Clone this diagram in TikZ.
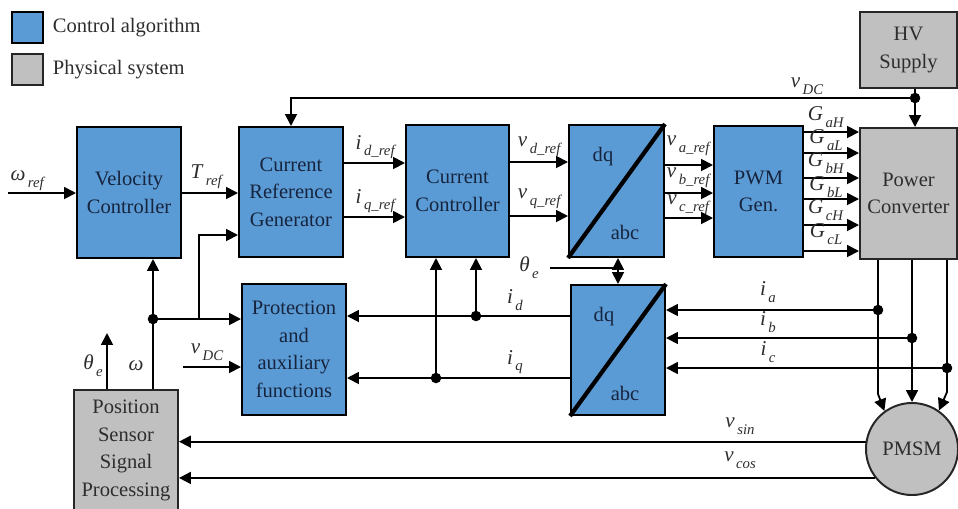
\documentclass[tikz,border=0pt]{standalone}
\usepackage{fontspec}
\setmainfont{Liberation Serif}
\usetikzlibrary{arrows.meta, positioning, calc}
\definecolor{ctrlblue}{RGB}{91,155,213}
\definecolor{physgray}{RGB}{192,192,192}
\definecolor{txtblue}{RGB}{22,36,62}
\definecolor{txtgray}{RGB}{45,45,45}
\newcommand{\boxfont}{\fontsize{14.6}{19.6}\selectfont}
\newcommand{\lblfont}{\fontsize{15}{18}\selectfont}
\newcommand{\sigsub}[2]{\textit{#1}\raisebox{-0.7ex}{\fontsize{10.5}{11}\selectfont\,\textit{#2}}}
\tikzset{
  ctrl/.style={rectangle, draw=black, fill=ctrlblue, line width=1.4pt,
    align=center, text=txtblue, font=\boxfont},
  phys/.style={rectangle, draw=black!85, fill=physgray, line width=1.4pt,
    align=center, text=txtgray, font=\boxfont},
  sig/.style={-{Triangle[length=8.5pt,width=8.5pt]}, line width=1.3pt},
  wire/.style={line width=1.3pt},
  dot/.style={circle, fill=black, inner sep=0pt, minimum size=7.5pt},
  lbl/.style={font=\lblfont, text=txtgray, inner sep=0pt},
  diag/.style={line width=3pt}
}

\begin{document}
\begin{tikzpicture}[x=0.025cm, y=-0.025cm]
  \useasboundingbox (0,0) rectangle (958,508);

  % Legend
  \node[ctrl, minimum size=0.77cm] (legctrl) at (27.5,27.5) {};
  \node[right=0.22cm of legctrl, font=\boxfont, text=txtgray, inner sep=0pt] (legctrltxt) {Control algorithm};
  \node[phys, minimum size=0.77cm] (legphys) at (27.5,69.5) {};
  \node[right=0.22cm of legphys, font=\boxfont, text=txtgray, inner sep=0pt] (legphystxt) {Physical system};

  % Control blocks
  \node[ctrl, minimum width=2.6cm, minimum height=3.275cm] (vc) at (129,192.5) {Velocity\\Controller};
  \node[ctrl, minimum width=2.6cm, minimum height=3.25cm] (crg) at (291,192) {Current\\Reference\\Generator};
  \node[ctrl, minimum width=2.575cm, minimum height=3.3cm] (cc) at (457.5,191) {Current\\Controller};
  \node[ctrl, minimum width=2.375cm, minimum height=3.3cm] (dqa) at (616.5,191) {};
  \node[ctrl, minimum width=2.225cm, minimum height=3.275cm] (pwm) at (758.5,191.5) {PWM\\Gen.};
  \node[ctrl, minimum width=2.6cm, minimum height=3.275cm] (prot) at (294,349.5) {Protection\\and\\auxiliary\\functions};
  \node[ctrl, minimum width=2.35cm, minimum height=3.25cm] (dqb) at (618,350) {};

  % Physical system
  \node[phys, minimum width=2.425cm, minimum height=1.9cm] (hv) at (908.5,50) {HV\\Supply};
  \node[phys, minimum width=2.425cm, minimum height=3.275cm] (pc) at (908.5,193.5) {Power\\Converter};
  \node[phys, minimum width=2.6cm, minimum height=3.025cm] (pss) at (126,450.5) {Position\\Sensor\\Signal\\Processing};
  \node[phys, circle, minimum size=2.3cm, inner sep=0pt] (pmsm) at (912,449) {PMSM};

  % dq / abc transforms
  \draw[diag] (dqa.south west) -- (dqa.north east);
  \node[font=\boxfont, text=txtblue] (dqatop) at (603,157) {dq};
  \node[font=\boxfont, text=txtblue] (dqabot) at (625,232) {abc};
  \draw[diag] (dqb.south west) -- (dqb.north east);
  \node[font=\boxfont, text=txtblue] (dqbtop) at (604,317) {dq};
  \node[font=\boxfont, text=txtblue] (dqbbot) at (625,393) {abc};

  % Speed loop
  \coordinate (wref) at (8,193);
  \draw[sig] (wref) -- (wref -| vc.west);
  \node[lbl] (wreflbl) at (28,181) {\sigsub{ω}{ref}};
  \draw[sig] (vc.east |- wref) -- (crg.west |- wref);
  \node[lbl] (treflbl) at (207,177) {\sigsub{T}{ref}};

  % DC bus
  \coordinate (jdc) at (915,98);
  \draw[wire] (jdc |- hv.south) -- (jdc);
  \draw[sig] (jdc) -- (jdc |- pc.north);
  \draw[sig] (jdc) -| (crg.north);
  \node[dot] (jdcdot) at (jdc) {};
  \node[lbl] (vdclbl) at (807,86) {\sigsub{v}{DC}};

  % Current references
  \draw[sig] (crg.east |- 0,163) -- (cc.west |- 0,163);
  \draw[sig] (crg.east |- 0,217) -- (cc.west |- 0,217);
  \node[lbl] (idreflbl) at (376,147) {\sigsub{i}{d\_ref}};
  \node[lbl] (iqreflbl) at (376,201) {\sigsub{i}{q\_ref}};

  % Voltage references
  \draw[sig] (cc.east |- 0,162) -- (dqa.west |- 0,162);
  \draw[sig] (cc.east |- 0,216) -- (dqa.west |- 0,216);
  \node[lbl] (vdreflbl) at (540,147) {\sigsub{v}{d\_ref}};
  \node[lbl] (vqreflbl) at (540,199) {\sigsub{v}{q\_ref}};

  \foreach \y/\p/\ly in {165/a/146, 193/b/178, 218/c/205} {
    \draw[sig] (dqa.east |- 0,\y) -- (pwm.west |- 0,\y);
    \node[lbl] at (689,\ly) {\sigsub{v}{\p\_ref}};
  }

  % Gate signals
  \foreach \y/\g/\ly in {132/aH/117, 153/aL/140, 178/bH/163, 199/bL/187, 225/cH/210, 251/cL/234} {
    \draw[sig] (pwm.east |- 0,\y) -- (pc.west |- 0,\y);
    \node[lbl] at (826,\ly) {\sigsub{G}{\g}};
  }

  % Electrical angle
  \coordinate (thin) at (550,268);
  \coordinate (jth) at (618,268);
  \draw[wire] (thin) -- (jth);
  \draw[sig] (jth) -- (jth |- dqa.south);
  \draw[sig] (jth) -- (jth |- dqb.north);
  \node[lbl] (thlbl) at (529,268) {\sigsub{θ}{e}};

  % Position sensor outputs
  \coordinate (jw) at (153,319);
  \coordinate (jwb) at (199,319);
  \coordinate (crgin) at (crg.west |- 0,235);
  \draw[sig] (jw |- pss.north) -- (jw |- vc.south);
  \draw[sig] (jw) -- (jw -| prot.west);
  \draw[sig] (jwb) |- (crgin);
  \node[dot] (jwdot) at (jw) {};
  \node[lbl] (wlbl) at (136,366) {\textit{ω}};
  \coordinate (thout) at (107,333);
  \draw[sig] (thout |- pss.north) -- (thout);
  \node[lbl] (thelbl) at (93,366) {\sigsub{θ}{e}};
  \coordinate (vdcin) at (183,367);
  \draw[sig] (vdcin) -- (vdcin -| prot.west);
  \node[lbl] (vdcinlbl) at (207,352) {\sigsub{v}{DC}};

  % Measured dq currents
  \coordinate (jid) at (476,316);
  \coordinate (jiq) at (436,378);
  \draw[sig] (dqb.west |- jid) -- (prot.east |- jid);
  \draw[sig] (dqb.west |- jiq) -- (prot.east |- jiq);
  \draw[sig] (jid) -- (jid |- cc.south);
  \draw[sig] (jiq) -- (jiq |- cc.south);
  \node[dot] (jiddot) at (jid) {};
  \node[dot] (jiqdot) at (jiq) {};
  \node[lbl] (idlbl) at (515,300) {\sigsub{i}{d}};
  \node[lbl] (iqlbl) at (515,362) {\sigsub{i}{q}};

  % Phase lines and measured phase currents
  \coordinate (ja) at (878,310);
  \coordinate (jb) at (pmsm.north |- 0,338);
  \coordinate (jc) at (947,368);
  \draw[sig] (ja |- pc.south) -- (878,394) -- (pmsm.126);
  \draw[sig] (jb |- pc.south) -- (pmsm.north);
  \draw[sig] (jc |- pc.south) -- (947,392) -- (pmsm.55);
  \foreach \j/\p/\ly in {ja/a/292, jb/b/322, jc/c/352} {
    \draw[sig] (\j) -- (\j -| dqb.east);
    \node[dot] at (\j) {};
    \node[lbl] at (768,\ly) {\sigsub{i}{\p}};
  }

  % Resolver signals
  \draw[sig] (pmsm.171) -- (pmsm.171 -| pss.east);
  \draw[sig] (pmsm.218) -- (pmsm.218 -| pss.east);
  \node[lbl] (vsinlbl) at (740,426) {\sigsub{v}{sin}};
  \node[lbl] (vcoslbl) at (740,460) {\sigsub{v}{cos}};
\end{tikzpicture}
\end{document}
